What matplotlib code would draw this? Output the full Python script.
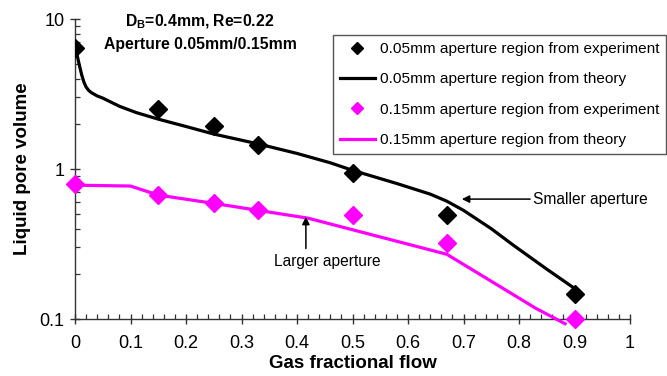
import matplotlib
matplotlib.use("Agg")
import matplotlib.pyplot as plt
from matplotlib.ticker import LogLocator, FuncFormatter, MultipleLocator

plt.rcParams["font.family"] = ["Liberation Sans", "DejaVu Sans"]
plt.rcParams["mathtext.fontset"] = "custom"
plt.rcParams["mathtext.rm"] = "Liberation Sans"
plt.rcParams["mathtext.bf"] = "Liberation Sans:bold"

MAGENTA = "#ff00ff"

# experimental points, 0.05 mm aperture region
exp_small_x = [0.0, 0.15, 0.25, 0.33, 0.5, 0.67, 0.9]
exp_small_y = [6.4, 2.5, 1.93, 1.44, 0.94, 0.49, 0.147]

# theory curve, 0.05 mm aperture region
th_small_x = [0.0, 0.004, 0.008, 0.012, 0.016, 0.02, 0.025, 0.03, 0.04, 0.05,
              0.08, 0.11, 0.15, 0.2, 0.25, 0.33, 0.4, 0.46, 0.5,
              0.58, 0.64, 0.67, 0.7, 0.75, 0.79, 0.85, 0.9]
th_small_y = [6.4, 5.7, 4.9, 4.25, 3.8, 3.52, 3.33, 3.22, 3.07, 2.97,
              2.62, 2.38, 2.15, 1.92, 1.71, 1.47, 1.27, 1.1, 0.98,
              0.8, 0.68, 0.61, 0.53, 0.4, 0.31, 0.215, 0.16]

# experimental points, 0.15 mm aperture region
exp_large_x = [0.0, 0.15, 0.25, 0.33, 0.5, 0.67, 0.9]
exp_large_y = [0.79, 0.67, 0.59, 0.53, 0.49, 0.32, 0.1]

# theory curve, 0.15 mm aperture region
th_large_x = [0.0, 0.1, 0.15, 0.25, 0.33, 0.42, 0.67, 0.83, 0.883]
th_large_y = [0.78, 0.77, 0.67, 0.59, 0.53, 0.47, 0.27, 0.118, 0.093]

fig = plt.figure(figsize=(6.67, 3.76), dpi=100)
ax = fig.add_axes([75 / 667, 1 - 319 / 376, 555 / 667, 300 / 376])

ax.plot(exp_small_x, exp_small_y, "D", color="black", markersize=9.5,
        linestyle="none", label="0.05mm aperture region from experiment", zorder=4)
ax.plot(th_small_x, th_small_y, "-", color="black", linewidth=2.3,
        label="0.05mm aperture region from theory", zorder=3)
ax.plot(exp_large_x, exp_large_y, "D", color=MAGENTA, markersize=9.5,
        linestyle="none", label="0.15mm aperture region from experiment",
        zorder=4, clip_on=False)
ax.plot(th_large_x, th_large_y, "-", color=MAGENTA, linewidth=2.3,
        label="0.15mm aperture region from theory", zorder=3, clip_on=False)

ax.set_yscale("log")
ax.set_xlim(0, 1)
ax.set_ylim(0.1, 10)
ax.xaxis.set_major_locator(MultipleLocator(0.1))
ax.xaxis.set_minor_locator(MultipleLocator(0.02))
ax.xaxis.set_major_formatter(FuncFormatter(lambda v, p: f"{v:g}"))
ax.yaxis.set_major_locator(LogLocator(base=10))
ax.yaxis.set_minor_locator(LogLocator(base=10, subs=range(2, 10)))
ax.yaxis.set_major_formatter(FuncFormatter(lambda v, p: f"{v:g}"))
ax.yaxis.set_minor_formatter(FuncFormatter(lambda v, p: ""))

for side in ("top", "right"):
    ax.spines[side].set_visible(False)
for side in ("left", "bottom"):
    ax.spines[side].set_color("#333333")
    ax.spines[side].set_linewidth(1.0)
ax.tick_params(which="major", direction="inout", length=7, width=1.0,
               color="#333333", labelsize=13)
ax.tick_params(axis="x", which="major", pad=8)
ax.tick_params(axis="y", which="major", pad=4)
ax.tick_params(which="minor", direction="in", length=3.5, width=0.9,
               color="#333333")

ax.set_xlabel("Gas fractional flow", fontsize=13.5, fontweight="bold", labelpad=2)
ax.set_ylabel("Liquid pore volume", fontsize=13.5, fontweight="bold", labelpad=6)

fig.text(200 / 667, 1 - 22 / 376, r"D$_\mathbf{B}$=0.4mm, Re=0.22",
         ha="center", va="center", fontsize=11.3, fontweight="bold")
fig.text(200 / 667, 1 - 45 / 376, "Aperture 0.05mm/0.15mm",
         ha="center", va="center", fontsize=11.3, fontweight="bold")

arrow = dict(arrowstyle="-|>", color="black", lw=1.1,
             mutation_scale=11, shrinkA=0, shrinkB=0)
ax.annotate("", xy=(0.697, 0.63), xytext=(0.82, 0.63), arrowprops=arrow)
ax.text(0.826, 0.63, "Smaller aperture", fontsize=11.2, ha="left", va="center")
ax.annotate("", xy=(0.416, 0.48), xytext=(0.416, 0.295), arrowprops=arrow)
ax.text(0.455, 0.243, "Larger aperture", fontsize=11.2, ha="center", va="center")

leg = ax.legend(loc="upper left", bbox_to_anchor=(333 / 667, 1 - 35 / 376),
                bbox_transform=fig.transFigure, borderaxespad=0, fontsize=11.1,
                frameon=True, fancybox=False, framealpha=1, edgecolor="#555555",
                markerscale=0.6, handlelength=2.25, handletextpad=0.35,
                labelspacing=1.06, borderpad=0.45)
leg.get_frame().set_linewidth(1.0)

fig.savefig("out.png", dpi=100)
